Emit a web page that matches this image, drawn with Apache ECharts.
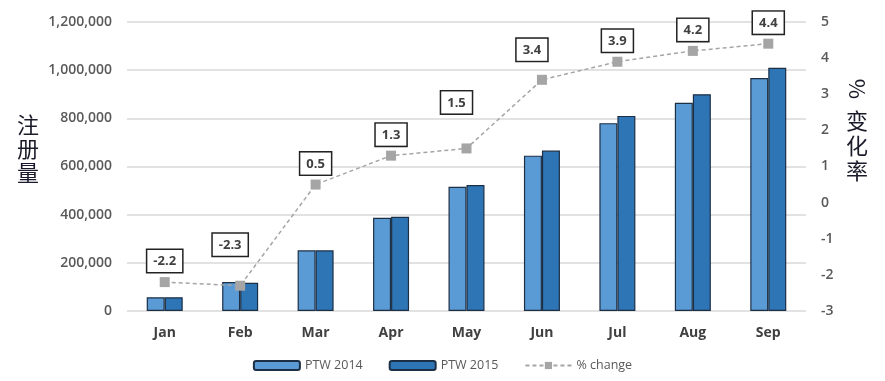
<!DOCTYPE html>
<html>
<head>
<meta charset="utf-8">
<script src="https://cdn.jsdelivr.net/npm/echarts@6/dist/echarts.min.js"></script>
<style>html,body{margin:0;padding:0;background:#fff}#c{width:885px;height:381px}</style>
</head>
<body>
<div id="c"></div>
<script>
const categories = ['Jan','Feb','Mar','Apr','May','Jun','Jul','Aug','Sep'];
const ptw2014 = [57000, 120000, 252000, 387000, 516000, 645000, 780000, 865000, 967000];
const ptw2015 = [57000, 117000, 252000, 391000, 523000, 666000, 810000, 900000, 1010000];
const pctChange = [-2.2, -2.3, 0.5, 1.3, 1.5, 3.4, 3.9, 4.2, 4.4];
const leftTicks = [0, 200000, 400000, 600000, 800000, 1000000, 1200000];
const rightTicks = [-3, -2, -1, 0, 1, 2, 3, 4, 5];
// label box nudges (layout only)
const labelDx = [0, -10, 0, 0, -10, -10, 0, 0, 0];
const labelDy = [0, -20, 0, 0, -25, -9, 0, 0, 0];

const chart = echarts.init(document.getElementById('c'));
const axisFont = {fontFamily: 'Open Sans, Lato, sans-serif', fontSize: 14, fontWeight: 600, color: '#595959'};
chart.setOption({
  animation: false,
  grid: {left: 127, right: 79, top: 22, bottom: 70},
  legend: {
    bottom: 4, left: 'center', itemWidth: 46, itemHeight: 9, itemGap: 26,
    textStyle: {fontFamily: 'Open Sans, sans-serif', fontSize: 12.5, color: '#595959'},
    data: ['PTW 2014', 'PTW 2015', '% change']
  },
  xAxis: {
    type: 'category', data: categories,
    axisLine: {show: false}, axisTick: {show: false},
    axisLabel: {fontFamily: 'Open Sans, sans-serif', fontSize: 14, fontWeight: 'bold', color: '#404040', margin: 15}
  },
  yAxis: [{
    type: 'value', min: leftTicks[0], max: leftTicks[leftTicks.length - 1], interval: 200000,
    axisLine: {show: false}, axisTick: {show: false},
    splitLine: {lineStyle: {color: '#d9d9d9', width: 1.5}},
    axisLabel: Object.assign({margin: 15, formatter: v => v.toLocaleString('en-US')}, axisFont)
  }, {
    type: 'value', min: rightTicks[0], max: rightTicks[rightTicks.length - 1], interval: 1,
    axisLine: {show: false}, axisTick: {show: false}, splitLine: {show: false},
    axisLabel: Object.assign({margin: 15}, axisFont)
  }],
  graphic: [
    {type: 'text', left: 17, top: 113, style: {text: '注\n册\n量', font: '22px "Noto Sans CJK SC"', lineHeight: 24, fill: '#1a1a2a'}},
    {type: 'text', x: 857, y: 89, rotation: -Math.PI / 2,
     style: {text: '%', font: '22px "Noto Sans CJK SC"', fill: '#1a1a2a', x: 0, y: 0, align: 'center', verticalAlign: 'middle'}},
    {type: 'text', left: 846, top: 108, style: {text: '变\n化\n率', font: '22px "Noto Sans CJK SC"', lineHeight: 25, fill: '#1a1a2a'}}
  ],
  series: [{
    name: 'PTW 2014', type: 'bar', data: ptw2014, barWidth: 18, barGap: '0%',
    itemStyle: {color: '#5b9bd5', borderColor: '#1c2f45', borderWidth: 1.2}
  }, {
    name: 'PTW 2015', type: 'bar', data: ptw2015, barWidth: 18,
    itemStyle: {color: '#2e75b6', borderColor: '#1c2f45', borderWidth: 1.2}
  }, {
    name: '% change', type: 'line', yAxisIndex: 1,
    data: pctChange.map((v, i) => ({value: v, label: {offset: [labelDx[i], labelDy[i]]}})),
    symbol: 'rect', symbolSize: 10,
    itemStyle: {color: '#a5a5a5'},
    lineStyle: {color: '#a5a5a5', width: 1.5, type: [4, 3]},
    label: {
      show: true, position: 'top', distance: 5,
      fontFamily: 'Open Sans, sans-serif', fontSize: 13, fontWeight: 'bold', color: '#404040',
      backgroundColor: '#fff', borderColor: '#222', borderWidth: 1.5, padding: [5, 6, 4, 6]
    },
    z: 5
  }]
});
</script>
</body>
</html>
